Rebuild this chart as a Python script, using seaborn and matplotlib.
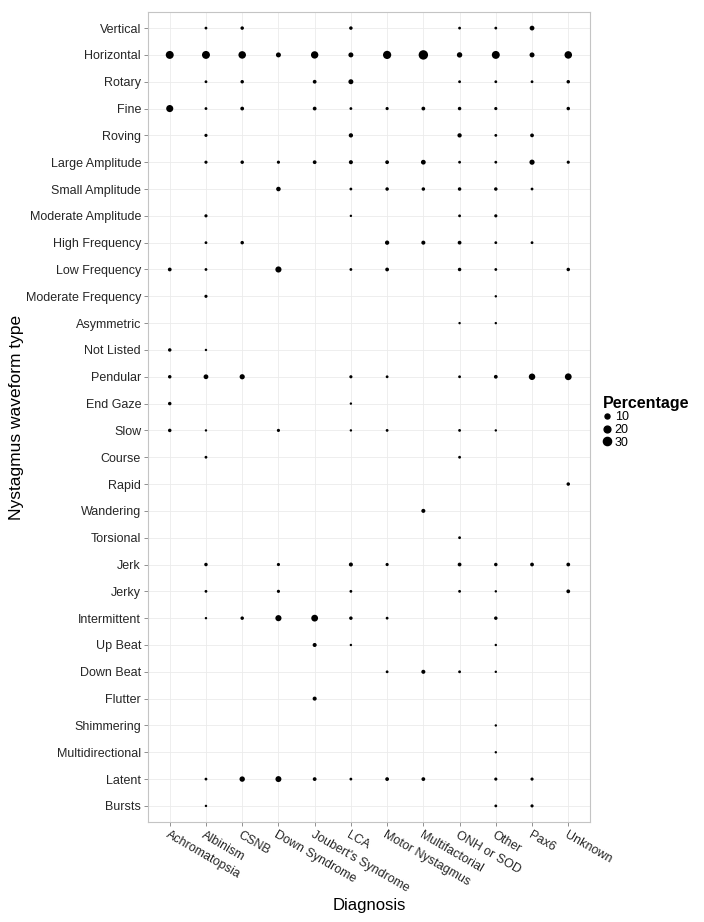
import numpy as np
import pandas as pd
import matplotlib
matplotlib.use("Agg")
import matplotlib.pyplot as plt
from matplotlib.lines import Line2D
import seaborn as sns

nan = np.nan

# --- Categories ---
diagnoses = ["Achromatopsia", "Albinism", "CSNB", "Down Syndrome", "Joubert's Syndrome",
             "LCA", "Motor Nystagmus", "Multifactorial", "ONH or SOD", "Other", "Pax6", "Unknown"]

waveforms = ["Vertical", "Horizontal", "Rotary", "Fine", "Roving", "Large Amplitude",
             "Small Amplitude", "Moderate Amplitude", "High Frequency", "Low Frequency",
             "Moderate Frequency", "Asymmetric", "Not Listed", "Pendular", "End Gaze", "Slow",
             "Course", "Rapid", "Wandering", "Torsional", "Jerk", "Jerky", "Intermittent",
             "Up Beat", "Down Beat", "Flutter", "Shimmering", "Multidirectional", "Latent", "Bursts"]

# --- Percentages per waveform (one value per diagnosis, nan = not reported) ---
vertical = [nan, 2, 4, nan, nan, 4, nan, nan, 2, 2, 9, nan]
horizontal = [28, 28, 25, 10, 24, 10, 30, 40, 12, 28, 10, 25]
rotary = [nan, 2, 4, nan, 5, 10, nan, nan, 2, 2, 2, 4]
fine = [22, 2, 5, nan, 5, 2, 3, 5, 4, 3, nan, 4]
roving = [nan, 3, nan, nan, nan, 7, nan, nan, 7, 2, 5, nan]
large_amplitude = [nan, 3, 4, 3, 5, 6, 5, 9, 2, 2, 11, 3]
small_amplitude = [nan, nan, nan, 8, nan, 2, 4, 4, 4, 4, 2, nan]
moderate_amplitude = [nan, 3, nan, nan, nan, 1, nan, nan, 2, 3, nan, nan]
high_frequency = [nan, 2, 4, nan, nan, nan, 7, 6, 5, 2, 2, nan]
low_frequency = [5, 2, nan, 16, nan, 2, 5, nan, 4, 2, nan, 4]
moderate_frequency = [nan, 3, nan, nan, nan, nan, nan, nan, nan, 1, nan, nan]
asymmetric = [nan, nan, nan, nan, nan, nan, nan, nan, 1, 1, nan, nan]
not_listed = [4, 1, nan, nan, nan, nan, nan, nan, nan, nan, nan, nan]
pendular = [4, 9, 11, nan, nan, 3, 2, nan, 2, 5, 18, 20]
end_gaze = [4, nan, nan, nan, nan, 1, nan, nan, nan, nan, nan, nan]
slow = [4, 1, nan, 3, nan, 1, 2, nan, 2, 1, nan, nan]
course = [nan, 2, nan, nan, nan, nan, nan, nan, 2, nan, nan, nan]
rapid = [nan, nan, nan, nan, nan, nan, nan, nan, nan, nan, nan, 4]
wandering = [nan, nan, nan, nan, nan, nan, nan, 6, nan, nan, nan, nan]
torsional = [nan, nan, nan, nan, nan, nan, nan, nan, 2, nan, nan, nan]
jerk = [nan, 4, nan, 3, nan, 6, 3, nan, 5, 4, 5, 5]
jerky = [nan, 2, nan, 3, nan, 2, nan, nan, 2, 1, nan, 5]
intermittent = [nan, 1, 4, 16, 20, 4, 2, nan, nan, 4, nan, nan]
up_beat = [nan, nan, nan, nan, 6, 1, nan, nan, nan, 1, nan, nan]
down_beat = [nan, nan, nan, nan, nan, nan, 2, 6, 2, 1, nan, nan]
flutter = [nan, nan, nan, nan, 6, nan, nan, nan, nan, nan, nan, nan]
shimmering = [nan, nan, nan, nan, nan, nan, nan, nan, nan, 1, nan, nan]
multidirectional = [nan, nan, nan, nan, nan, nan, nan, nan, nan, 1, nan, nan]
latent = [nan, 2, 12, 15, 5, 2, 5, 5, nan, 3, 3, nan]
bursts = [nan, 1, nan, nan, nan, nan, nan, nan, nan, 2, 3, nan]

rows = [vertical, horizontal, rotary, fine, roving, large_amplitude, small_amplitude,
        moderate_amplitude, high_frequency, low_frequency, moderate_frequency, asymmetric,
        not_listed, pendular, end_gaze, slow, course, rapid, wandering, torsional, jerk, jerky,
        intermittent, up_beat, down_beat, flutter, shimmering, multidirectional, latent, bursts]

legend_values = [10, 20, 30]

# --- Long-form table ---
records = []
for wf, vals in zip(waveforms, rows):
    for dx, v in zip(diagnoses, vals):
        if not np.isnan(v):
            records.append({"Diagnosis": dx, "Waveform": wf, "Percentage": v})
df = pd.DataFrame(records)
df["Diagnosis"] = pd.Categorical(df["Diagnosis"], categories=diagnoses, ordered=True)
df["Waveform"] = pd.Categorical(df["Waveform"], categories=waveforms, ordered=True)

# --- Plot ---
plt.rcParams["font.family"] = ["Liberation Sans", "DejaVu Sans"]
fig = plt.figure(figsize=(7.04, 9.22), dpi=100)
ax = fig.add_axes([148 / 704, 1 - 822 / 922, 442 / 704, 810 / 922])

size_norm = (1, 40)
size_range = (3.0, 46)
sns.scatterplot(data=df, x="Diagnosis", y="Waveform", size="Percentage",
                sizes=size_range, size_norm=size_norm, color="black",
                edgecolor="none", legend=False, ax=ax, zorder=3)

ax.set_xlim(-0.6, len(diagnoses) - 0.4)
ax.set_ylim(len(waveforms) - 0.4, -0.6)

ax.grid(True, color="#ebebeb", linewidth=0.6, zorder=0)
ax.set_axisbelow(True)
for sp in ax.spines.values():
    sp.set_color("#c4c4c4")
    sp.set_linewidth(0.8)
ax.tick_params(axis="both", length=3, width=0.6, color="#7f7f7f",
               labelsize=9, labelcolor="#262626", pad=2)
plt.setp(ax.get_xticklabels(), rotation=-30, ha="left", va="top", rotation_mode="anchor")

ax.set_xlabel("Diagnosis", fontsize=12, labelpad=2)
ax.set_ylabel("Nystagmus waveform type", fontsize=12.5, labelpad=1)

# --- Size legend ---
def area(v):
    lo, hi = size_norm
    return size_range[0] + (v - lo) / (hi - lo) * (size_range[1] - size_range[0])

handles = [Line2D([], [], marker="o", linestyle="none", color="black",
                  markersize=np.sqrt(area(v))) for v in legend_values]
leg = fig.legend(handles, [str(v) for v in legend_values], title="Percentage",
                 loc="upper left", bbox_to_anchor=(594 / 704, 1 - 387 / 922),
                 frameon=False, fontsize=9, handlelength=0.7, handletextpad=0.25,
                 labelspacing=0.05, borderpad=0.2, alignment="left")
leg.get_title().set_fontweight("bold")
leg.get_title().set_fontsize(11.5)

fig.savefig("out.png", dpi=100)
